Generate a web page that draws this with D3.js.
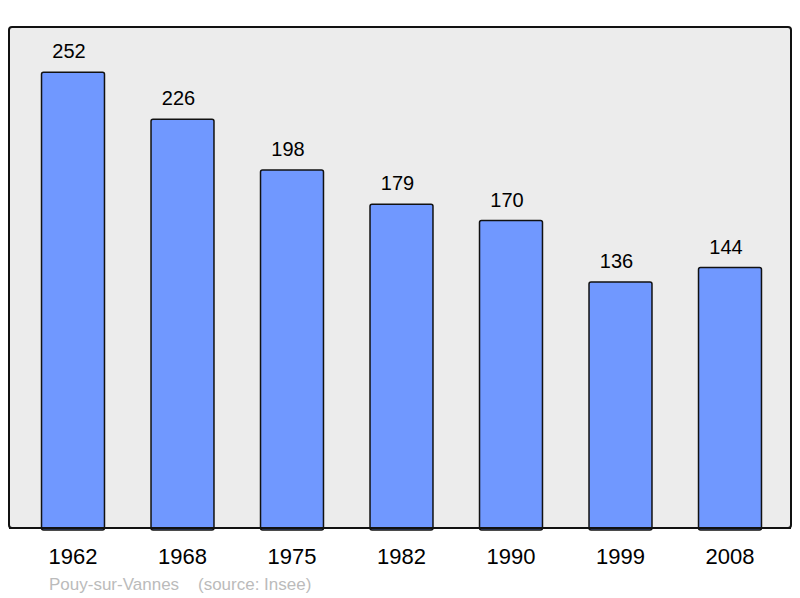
<!DOCTYPE html>
<html lang="fr">
<head>
<meta charset="UTF-8">
<title>Pouy-sur-Vannes</title>
<script src="https://d3js.org/d3.v7.min.js"></script>
<style>
  body { margin: 0; background: #ffffff; }
  svg { display: block; font-family: "Liberation Sans", Arial, sans-serif; }
</style>
</head>
<body>
<div id="chart"></div>
<script>
// Population data
const years = ["1962", "1968", "1975", "1982", "1990", "1999", "2008"];
const population = [252, 226, 198, 179, 170, 136, 144];
const caption = "Pouy-sur-Vannes\u00a0\u00a0\u00a0\u00a0(source: Insee)";

const width = 800, height = 598;
const box = { left: 9, top: 27, right: 791, bottom: 528 };

const svg = d3.select("#chart").append("svg")
    .attr("width", width)
    .attr("height", height);

// plot background
svg.append("rect")
    .attr("x", box.left)
    .attr("y", box.top)
    .attr("width", box.right - box.left)
    .attr("height", box.bottom - box.top)
    .attr("rx", 3)
    .attr("fill", "#ececec")
    .attr("stroke", "#111")
    .attr("stroke-width", 2);

const x = d3.scaleBand()
    .domain(years)
    .range([18.25, 784.75])
    .paddingInner(0.425)
    .paddingOuter(0.2125);

const y = d3.scaleLinear()
    .domain([0, 277])
    .range([box.bottom, box.top]);

const data = years.map((yr, i) => ({ year: yr, value: population[i] }));

svg.selectAll(".bar")
    .data(data)
    .enter().append("rect")
    .attr("class", "bar")
    .attr("x", d => x(d.year))
    .attr("y", d => y(d.value))
    .attr("width", x.bandwidth())
    .attr("height", d => box.bottom - y(d.value) + 2)
    .attr("rx", 2)
    .attr("fill", "#7098ff")
    .attr("stroke", "#111")
    .attr("stroke-width", 1.5);

// redraw bottom edge of the frame over the bars
svg.append("line")
    .attr("x1", box.left)
    .attr("x2", box.right)
    .attr("y1", box.bottom)
    .attr("y2", box.bottom)
    .attr("stroke", "#111")
    .attr("stroke-width", 2);

svg.selectAll(".val")
    .data(data)
    .enter().append("text")
    .attr("class", "val")
    .attr("x", d => x(d.year) + x.bandwidth() / 2 - 4)
    .attr("y", d => y(d.value) - 14)
    .attr("text-anchor", "middle")
    .attr("font-size", 20)
    .attr("fill", "#000")
    .text(d => d.value);

// year axis
const axis = svg.append("g")
    .attr("transform", `translate(0,${box.bottom})`)
    .call(d3.axisBottom(x).tickSize(0).tickPadding(0));
axis.select(".domain").remove();
axis.selectAll("text")
    .attr("y", 36)
    .attr("dy", 0)
    .attr("font-size", 22)
    .attr("font-family", "Liberation Sans, Arial, sans-serif")
    .attr("fill", "#000");

svg.append("text")
    .attr("x", 49)
    .attr("y", 590)
    .attr("font-size", 17)
    .attr("fill", "#bbbbbb")
    .text(caption);
</script>
</body>
</html>
